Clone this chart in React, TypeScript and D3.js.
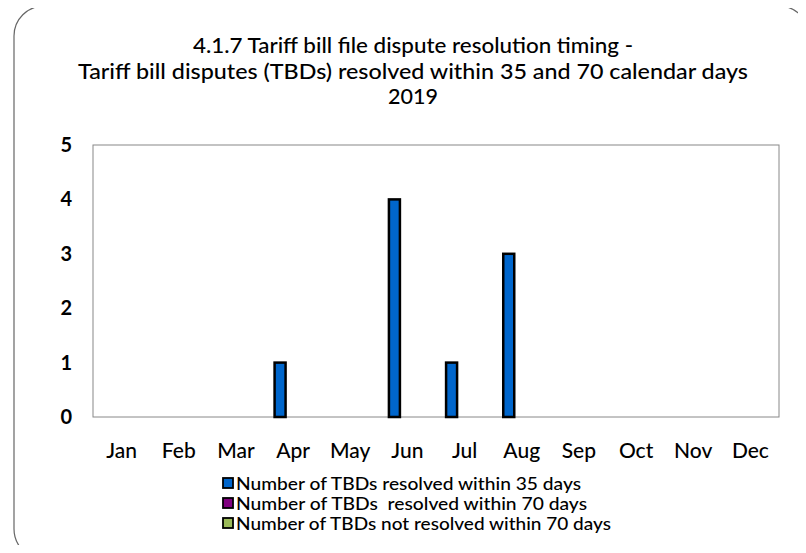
import React from "react";
import * as d3 from "d3";

const months = ["Jan", "Feb", "Mar", "Apr", "May", "Jun", "Jul", "Aug", "Sep", "Oct", "Nov", "Dec"];
const within35 = [0, 0, 0, 1, 0, 4, 1, 3, 0, 0, 0, 0];
const within70 = [0, 0, 0, 0, 0, 0, 0, 0, 0, 0, 0, 0];
const notResolved = [0, 0, 0, 0, 0, 0, 0, 0, 0, 0, 0, 0];
const seriesNames = [
  "Number of TBDs resolved within 35 days",
  "Number of TBDs  resolved within 70 days",
  "Number of TBDs not resolved within 70 days",
];
const seriesColors = ["#0066CC", "#800080", "#9BBB59"];
const yTicks = [0, 1, 2, 3, 4, 5];
const titleLines = [
  "4.1.7 Tariff bill file dispute resolution timing -",
  "Tariff bill disputes (TBDs) resolved within 35 and 70 calendar days",
  "2019",
];
const titleWidths = [440, 670, 50];
const legendWidths = [345, 351, 375];

const W = 806;
const H = 553;
const FONT = "Lato, 'Noto Sans', sans-serif";

export default function App() {
  const left = 93, right = 779, top = 145, bottom = 417;
  const x = d3.scaleBand().domain(months).range([left, right]).paddingInner(0).paddingOuter(0);
  const y = d3.scaleLinear().domain([0, 5]).range([bottom, top]);
  const series = [within35, within70, notResolved];
  const barW = 13;
  const groupW = barW * 3;

  return (
    <div style={{ margin: -8 }}>
      <svg width={W} height={H} style={{ display: "block" }}>
        <rect x={0} y={0} width={W} height={H} fill="#fff" />
        <rect x={17} y={9} width={795} height={553} rx={30} ry={30} fill="#000" />
        <rect x={14} y={6} width={795} height={553} rx={30} ry={30} fill="#fff" stroke="#666" strokeWidth={1.2} />
        {titleLines.map((t, i) => (
          <text key={i} x={413} y={53 + i * 25.5} textAnchor="middle" fontFamily={FONT} fontSize={20.5} fontWeight={500} fill="#000"
            textLength={titleWidths[i]} lengthAdjust="spacingAndGlyphs">
            {t}
          </text>
        ))}
        <rect x={left} y={top} width={right - left} height={bottom - top} fill="none" stroke="#888" strokeWidth={1} />
        {yTicks.map((v) => (
          <text key={v} x={72} y={y(v) + 7} textAnchor="end" fontFamily={FONT} fontSize={20} fontWeight={700} fill="#000">
            {v}
          </text>
        ))}
        {months.map((m) => (
          <text key={m} x={(x(m) as number) + x.bandwidth() / 2} y={458} textAnchor="middle" fontFamily={FONT} fontSize={21} fontWeight={500} fill="#000">
            {m}
          </text>
        ))}
        {series.map((vals, si) =>
          vals.map((v, i) => {
            if (v <= 0) return null;
            const cx = (x(months[i]) as number) + x.bandwidth() / 2;
            const bx = cx - groupW / 2 + si * barW;
            return (
              <rect key={si + "-" + i} x={bx + 1} y={y(v)} width={barW - 2} height={y(0) - y(v)} fill={seriesColors[si]} stroke="#000" strokeWidth={2.5} />
            );
          })
        )}
        {seriesNames.map((n, i) => (
          <g key={i} transform={`translate(223, ${478 + i * 20})`}>
            <rect x={0} y={0} width={10} height={10} fill={seriesColors[i]} stroke="#000" strokeWidth={1.8} />
            <text x={13} y={11.5} fontFamily={FONT} fontSize={17.5} fontWeight={500} fill="#000"
              style={{ whiteSpace: "pre" }} textLength={legendWidths[i]} lengthAdjust="spacingAndGlyphs">
              {n}
            </text>
          </g>
        ))}
      </svg>
    </div>
  );
}
